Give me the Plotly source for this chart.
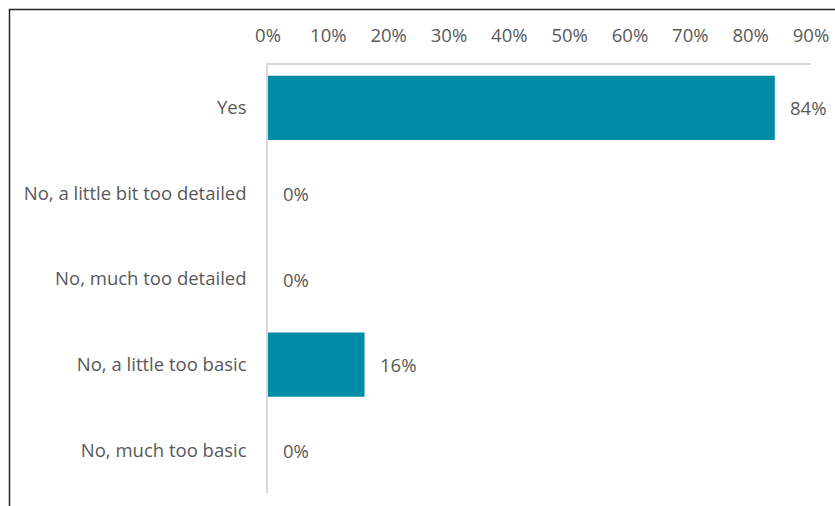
import plotly.graph_objects as go

categories = ["Yes", "No, a little bit too detailed", "No, much too detailed",
              "No, a little too basic", "No, much too basic"]
values = [84, 0, 0, 16, 0]
x_ticks = [0, 10, 20, 30, 40, 50, 60, 70, 80, 90]

W, H = 835, 506
L, R, T, B = 268, 24, 65, 13
pw, ph = W - L - R, H - T - B

font_color = "#595959"
fam = "Open Sans"
fs = 18.5

fig = go.Figure(go.Bar(
    x=values, y=categories, orientation="h",
    marker=dict(color="#008BA6", line=dict(width=0)),
    hoverinfo="skip",
))

# value labels to the right of each bar end
for c, v in zip(categories, values):
    fig.add_annotation(x=v, y=c, xref="x", yref="y", text=f"{v}%",
                       showarrow=False, xanchor="left", xshift=13,
                       font=dict(family=fam, size=fs, color=font_color))

# outer frame (left and top edges; the rest lies outside the canvas)
def px_x(p):
    return (p - L) / pw

def px_y(p):
    return 1 - (p - T) / ph

frame = dict(color="#262626", width=1.5)
fig.add_shape(type="line", xref="paper", yref="paper",
              x0=px_x(9), x1=px_x(W + 5), y0=px_y(9.5), y1=px_y(9.5), line=frame)
fig.add_shape(type="line", xref="paper", yref="paper",
              x0=px_x(9.5), x1=px_x(9.5), y0=px_y(9), y1=px_y(H + 5), line=frame)

fig.update_layout(
    width=W, height=H,
    margin=dict(l=L, r=R, t=T, b=B, pad=0, autoexpand=False),
    paper_bgcolor="white", plot_bgcolor="white",
    bargap=0.25, showlegend=False,
    font=dict(family=fam, size=fs, color=font_color),
    xaxis=dict(side="top", range=[0, 90], autorange=False, automargin=False,
               tickvals=x_ticks, ticktext=[f"{t}%" for t in x_ticks],
               showgrid=False, zeroline=False,
               showline=True, linecolor="#d9d9d9", linewidth=1.5,
               ticks="outside", ticklen=14, tickcolor="rgba(0,0,0,0)",
               tickfont=dict(family=fam, size=fs, color=font_color),
               fixedrange=True),
    yaxis=dict(autorange="reversed", categoryorder="array", categoryarray=categories,
               automargin=False,
               showgrid=False, zeroline=False,
               showline=True, linecolor="#d9d9d9", linewidth=1.5,
               ticks="outside", ticklen=16, tickcolor="rgba(0,0,0,0)",
               tickfont=dict(family=fam, size=fs, color=font_color),
               fixedrange=True),
)

fig.write_html("out.html")
